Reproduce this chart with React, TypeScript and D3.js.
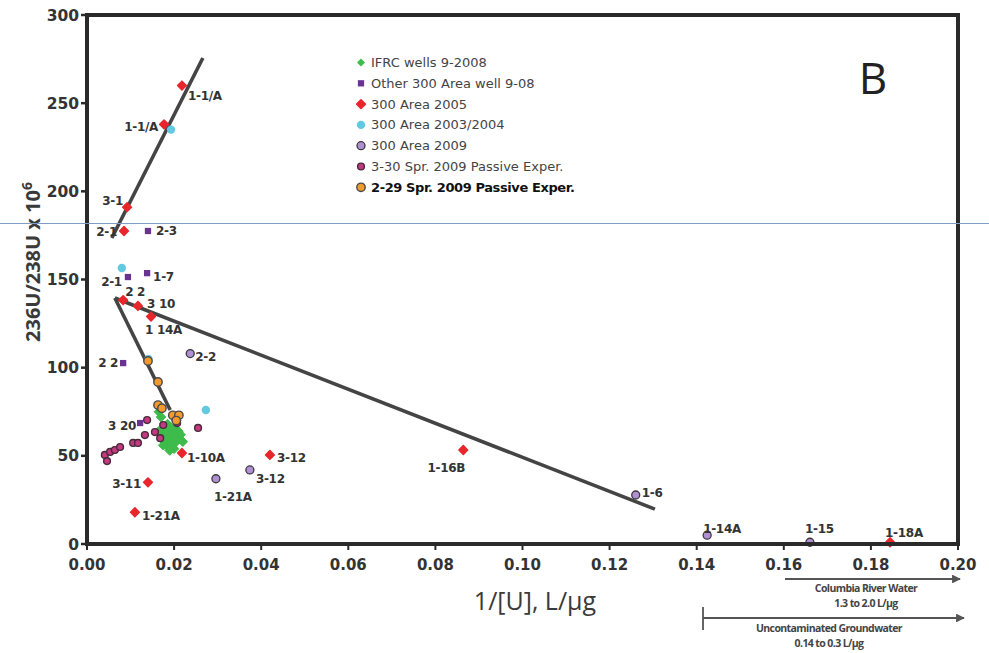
import React from "react";
import * as d3 from "d3";

// ---------- data ----------
const xTicks = [0, 0.02, 0.04, 0.06, 0.08, 0.1, 0.12, 0.14, 0.16, 0.18, 0.2];
const yTicks = [0, 50, 100, 150, 200, 250, 300];

const ifrc: [number, number][] = [
  [0.0175, 62], [0.018, 58], [0.0185, 55], [0.019, 60], [0.0195, 57], [0.02, 62],
  [0.0205, 58], [0.021, 64], [0.02, 66], [0.019, 65], [0.0185, 68], [0.018, 66],
  [0.017, 60], [0.0165, 64], [0.021, 60], [0.0215, 62], [0.02, 54], [0.019, 53],
  [0.017, 72], [0.0165, 75], [0.0205, 70], [0.0175, 56], [0.022, 58], [0.0188, 62],
];
const other300: [number, number][] = [
  [0.014, 177.5], [0.0094, 151.4], [0.0138, 153.6], [0.0083, 102.6], [0.0122, 68.6],
];
const area2005: [number, number][] = [
  [0.0218, 260], [0.0177, 238], [0.0092, 191], [0.0085, 177.5], [0.0083, 138.3],
  [0.0117, 135], [0.0147, 129], [0.0218, 51.6], [0.014, 35], [0.011, 18],
  [0.042, 50.5], [0.0864, 53.3], [0.1844, 1],
];
const area2003: [number, number][] = [
  [0.0193, 235], [0.008, 156.5], [0.0273, 76], [0.0141, 105],
];
const area2009: [number, number][] = [
  [0.0237, 108], [0.0374, 42], [0.0296, 37], [0.126, 27.8], [0.1424, 5], [0.166, 1],
];
const spr330: [number, number][] = [
  [0.0041, 50.5], [0.0053, 52.2], [0.0064, 53.3], [0.0076, 55], [0.0046, 47],
  [0.0106, 57.3], [0.0117, 57.3], [0.0133, 61.8], [0.0156, 63.5], [0.0168, 60],
  [0.0175, 67.5], [0.0138, 70.3], [0.0207, 68.6], [0.0255, 65.8], [0.0209, 73],
];
const spr229: [number, number][] = [
  [0.014, 103.8], [0.0163, 91.9], [0.0163, 78.8], [0.0172, 77], [0.0197, 73],
  [0.0211, 73], [0.0205, 70],
];

const fitLines: [number, number][][] = [
  [[0.0057, 173.5], [0.0266, 275.6]],
  [[0.0064, 139.5], [0.1304, 19.8]],
  [[0.0064, 139.5], [0.0191, 76]],
];

// label text, anchor point (data), offset in px, text-anchor
const pointLabels: { t: string; x: number; y: number; dx: number; dy: number; a: string }[] = [
  { t: "1-1/A", x: 0.0218, y: 260, dx: 6, dy: 14, a: "start" },
  { t: "1-1/A", x: 0.0177, y: 238, dx: -6, dy: 7, a: "end" },
  { t: "3-1", x: 0.0092, y: 191, dx: -4, dy: -2, a: "end" },
  { t: "2-1", x: 0.0085, y: 177.5, dx: -7, dy: 5, a: "end" },
  { t: "2-3", x: 0.014, y: 177.5, dx: 8, dy: 4, a: "start" },
  { t: "2-1", x: 0.0094, y: 151.4, dx: -6, dy: 9, a: "end" },
  { t: "1-7", x: 0.0138, y: 153.6, dx: 6, dy: 8, a: "start" },
  { t: "2 2", x: 0.0083, y: 138.3, dx: 2, dy: -4, a: "start" },
  { t: "3 10", x: 0.0117, y: 135, dx: 9, dy: 2, a: "start" },
  { t: "1 14A", x: 0.0147, y: 129, dx: -6, dy: 17, a: "start" },
  { t: "2 2", x: 0.0083, y: 102.6, dx: -5, dy: 4, a: "end" },
  { t: "2-2", x: 0.0237, y: 108, dx: 5, dy: 7, a: "start" },
  { t: "3 20", x: 0.0122, y: 68.6, dx: -4, dy: 7, a: "end" },
  { t: "1-10A", x: 0.0218, y: 51.6, dx: 5, dy: 9, a: "start" },
  { t: "3-11", x: 0.014, y: 35, dx: -7, dy: 6, a: "end" },
  { t: "1-21A", x: 0.011, y: 18, dx: 7, dy: 8, a: "start" },
  { t: "3-12", x: 0.042, y: 50.5, dx: 7, dy: 7, a: "start" },
  { t: "3-12", x: 0.0374, y: 42, dx: 6, dy: 13, a: "start" },
  { t: "1-21A", x: 0.0296, y: 37, dx: 17, dy: 22, a: "middle" },
  { t: "1-16B", x: 0.0864, y: 53.3, dx: -17, dy: 22, a: "middle" },
  { t: "1-6", x: 0.126, y: 27.8, dx: 6, dy: 2, a: "start" },
  { t: "1-14A", x: 0.1424, y: 5, dx: -4, dy: -2, a: "start" },
  { t: "1-15", x: 0.166, y: 1, dx: -5, dy: -9, a: "start" },
  { t: "1-18A", x: 0.1844, y: 1, dx: -5, dy: -5, a: "start" },
];

const legendItems = [
  "IFRC wells 9-2008",
  "Other 300 Area well 9-08",
  "300 Area 2005",
  "300 Area 2003/2004",
  "300 Area 2009",
  "3-30 Spr. 2009 Passive Exper.",
  "2-29 Spr. 2009 Passive Exper.",
];

const rangeNotes = [
  ["Columbia River Water", "1.3 to 2.0 L/µg"],
  ["Uncontaminated Groundwater", "0.14 to 0.3 L/µg"],
];

// ---------- styles ----------
const W = 989;
const H = 653;
const M = { left: 87, right: 958, top: 15, bottom: 544 };
const DARK = "#2a2a2a";
const LBL = "#333";
const BOLD_FONT = "'DejaVu Sans', sans-serif";

const x = d3.scaleLinear().domain([0, 0.2]).range([M.left, M.right]);
const y = d3.scaleLinear().domain([0, 300]).range([M.bottom, M.top]);

const diamond = d3.symbol().type(d3.symbolDiamond2);
const square = d3.symbol().type(d3.symbolSquare2);

type MarkerKind = "ifrc" | "other" | "a2005" | "a2003" | "a2009" | "s330" | "s229";

function Marker({ kind, cx, cy, legend }: { kind: MarkerKind; cx: number; cy: number; legend?: boolean }) {
  switch (kind) {
    case "ifrc":
      return (
        <path d={diamond.size(legend ? 40 : 58)() || ""} transform={`translate(${cx},${cy})`}
          fill="#3dbb4b" stroke="#3dbb4b" strokeWidth={legend ? 0 : 1} strokeLinejoin="round" />
      );
    case "other":
      return <path d={square.size(50)() || ""} transform={`translate(${cx},${cy})`} fill="#6a3390" />;
    case "a2005":
      return (
        <path d={diamond.size(48)() || ""} transform={`translate(${cx},${cy})`} fill="#e8262b"
          stroke="#e8262b" strokeWidth={1.6} strokeLinejoin="round" />
      );
    case "a2003":
      return <circle cx={cx} cy={cy} r={4.2} fill="#62c9e0" />;
    case "a2009":
      return <circle cx={cx} cy={cy} r={4} fill="#b08fd2" stroke="#3a3a3a" strokeWidth={1.3} />;
    case "s330":
      return <circle cx={cx} cy={cy} r={3.4} fill="#c33a80" stroke="#4a2a3a" strokeWidth={1.4} />;
    case "s229":
      return <circle cx={cx} cy={cy} r={4.2} fill="#f39a2e" stroke="#4a4a4a" strokeWidth={1.4} />;
  }
  return null;
}

const seriesList: { kind: MarkerKind; data: [number, number][] }[] = [
  { kind: "a2003", data: area2003 },
  { kind: "ifrc", data: ifrc },
  { kind: "s330", data: spr330 },
  { kind: "other", data: other300 },
  { kind: "a2009", data: area2009 },
  { kind: "s229", data: spr229 },
  { kind: "a2005", data: area2005 },
];
const legendKinds: MarkerKind[] = ["ifrc", "other", "a2005", "a2003", "a2009", "s330", "s229"];

export default function App() {
  const line = d3
    .line<[number, number]>()
    .x((d) => x(d[0]))
    .y((d) => y(d[1]));

  const noteProps = {
    textAnchor: "middle" as const,
    fontFamily: "'Open Sans', sans-serif",
    fontWeight: "bold" as const,
    fontSize: 10.5,
    fill: "#444",
    letterSpacing: -0.6,
  };

  return (
    <svg
      width={W}
      height={H}
      viewBox={`0 0 ${W} ${H}`}
      style={{ position: "absolute", left: 0, top: 0, background: "#fff" }}
    >
      <rect x={0} y={0} width={W} height={H} fill="#fff" />

      {/* fit lines */}
      {fitLines.map((l, i) => (
        <path key={i} d={line(l) || ""} stroke="#444" strokeWidth={3.6} fill="none" />
      ))}

      {/* points */}
      {seriesList.map((s) =>
        s.data.map((d, i) => <Marker key={s.kind + i} kind={s.kind} cx={x(d[0])} cy={y(d[1])} />)
      )}

      {/* point labels */}
      {pointLabels.map((p, i) => (
        <text
          key={i}
          x={x(p.x) + p.dx}
          y={y(p.y) + p.dy}
          textAnchor={p.a as any}
          fontFamily={BOLD_FONT}
          fontWeight="bold"
          fontSize={12}
          fill={LBL}
          letterSpacing={-0.3}
        >
          {p.t}
        </text>
      ))}

      {/* frame */}
      <rect
        x={M.left}
        y={M.top}
        width={M.right - M.left}
        height={M.bottom - M.top}
        fill="none"
        stroke={DARK}
        strokeWidth={4}
      />

      {/* y ticks */}
      {yTicks.map((t) => (
        <g key={"y" + t}>
          <line x1={M.left - 6} x2={M.left} y1={y(t)} y2={y(t)} stroke={DARK} strokeWidth={2.5} />
          <text
            x={M.left - 8}
            y={y(t) + 5.5}
            textAnchor="end"
            fontFamily={BOLD_FONT}
            fontWeight="bold"
            fontSize={15.5}
            fill={LBL}
          >
            {t}
          </text>
        </g>
      ))}

      {/* x ticks */}
      {xTicks.map((t) => (
        <g key={"x" + t}>
          <line x1={x(t)} x2={x(t)} y1={M.bottom} y2={M.bottom + 6} stroke={DARK} strokeWidth={2} />
          <text
            x={x(t)}
            y={M.bottom + 26}
            textAnchor="middle"
            fontFamily={BOLD_FONT}
            fontWeight="bold"
            fontSize={15}
            fill={LBL}
          >
            {t.toFixed(2)}
          </text>
        </g>
      ))}

      {/* axis titles */}
      <text
        x={535}
        y={610}
        textAnchor="middle"
        fontFamily="'Open Sans', sans-serif"
        fontSize={25}
        fill="#3a3a3a"
      >
        1/[U], L/µg
      </text>
      <text
        transform="translate(40,262) rotate(-90)"
        textAnchor="middle"
        fontFamily="'Open Sans', sans-serif"
        fontWeight={700}
        fontSize={20}
        fill="#3a3a3a"
      >
        236U/238U x 10
        <tspan fontSize={14} dy={-8}>6</tspan>
      </text>

      {/* panel letter */}
      <text x={873} y={94} textAnchor="middle" fontFamily="'Open Sans', sans-serif" fontSize={44} fill="#222">
        B
      </text>

      {/* legend */}
      {legendItems.map((t, i) => {
        const ly = 62.5 + i * 20.8;
        const last = i === legendItems.length - 1;
        return (
          <g key={"lg" + i}>
            <Marker kind={legendKinds[i]} cx={361} cy={ly} legend />
            <text
              x={371}
              y={ly + 4.5}
              fontFamily={BOLD_FONT}
              fontSize={13}
              fontWeight={last ? "bold" : "normal"}
              fill={last ? "#111" : "#444"}
              letterSpacing={last ? -0.4 : 0}
            >
              {t}
            </text>
          </g>
        );
      })}

      {/* range arrows */}
      <defs>
        <marker id="ah" viewBox="0 0 10 10" refX={9} refY={5} markerWidth={5} markerHeight={4} orient="auto">
          <path d="M0,0 L10,5 L0,10 z" fill="#555" />
        </marker>
      </defs>
      <line x1={785} x2={960} y1={579} y2={579} stroke="#555" strokeWidth={2.2} markerEnd="url(#ah)" />
      <text x={866} y={592} {...noteProps}>{rangeNotes[0][0]}</text>
      <text x={866} y={607} {...noteProps}>{rangeNotes[0][1]}</text>
      <line x1={703} x2={703} y1={607} y2={630} stroke="#666" strokeWidth={2} />
      <line x1={703} x2={964} y1={618} y2={618} stroke="#555" strokeWidth={2.2} markerEnd="url(#ah)" />
      <text x={829} y={632} {...noteProps}>{rangeNotes[1][0]}</text>
      <text x={829} y={647} {...noteProps}>{rangeNotes[1][1]}</text>

      {/* horizontal guide artifact */}
      <line x1={0} x2={W} y1={223.5} y2={223.5} stroke="#7e9cc6" strokeWidth={1} />
    </svg>
  );
}
